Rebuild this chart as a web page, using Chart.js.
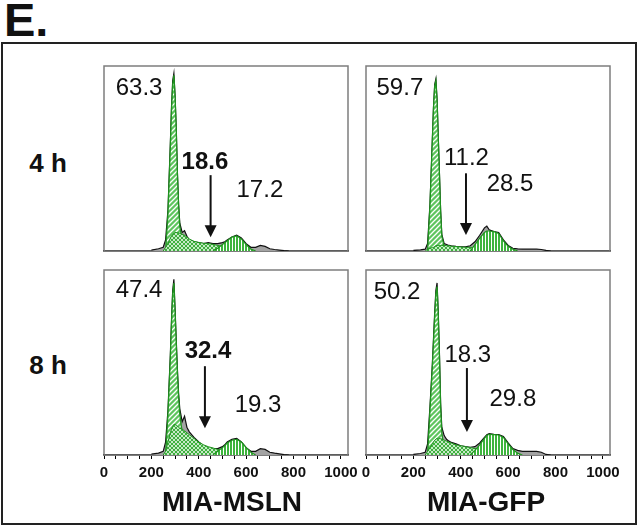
<!DOCTYPE html>
<html>
<head>
<meta charset="utf-8">
<script src="https://cdn.jsdelivr.net/npm/chart.js@4.4.1/dist/chart.umd.min.js"></script>
<style>
  html, body { margin: 0; padding: 0; background: #fff; }
  #page { position: relative; width: 639px; height: 527px; overflow: hidden; font-family: "Liberation Sans", Arial, sans-serif; color: #111; }
  .txt { position: absolute; line-height: 1; white-space: nowrap; }
  .panel { position: absolute; }
  #frame { position: absolute; left: 1px; top: 42px; width: 636px; height: 483px; border: 2px solid #222; box-sizing: border-box; }
</style>
</head>
<body>
<div id="page">
  <div id="frame"></div>
</div>
<script>
/* ── Data: DNA content channel (x) and relative cell count (y, % of panel height) ── */
const _ = null;
const channels = [200, 230, 250, 260, 270, 280, 285, 290, 295, 300,
                  305, 310, 315, 320, 330, 340, 350, 360, 380, 400,
                  420, 440, 460, 480, 500, 510, 520, 540, 560, 580,
                  600, 620, 640, 660, 680, 700, 720, 740, 760, 780];

const axisTicks = [0, 50, 100, 150, 200, 250, 300, 350, 400, 450, 500,
                   550, 600, 650, 700, 750, 800, 850, 900, 950, 1000];
const majorTicks = [0, 200, 400, 600, 800, 1000];
const rowLabels = ['4 h', '8 h'];
const colLabels = ['MIA-MSLN', 'MIA-GFP'];

// 4 h, MIA-MSLN
const totalA = [0.5, 1.2, 2, 6, 22, 58, 78, 92, 96, 84, 66, 42, 25, 15, 10, 11, 8, 6, 5, 4.5,
                4, 4.5, 4, 4, 4.5, 5, 6, 7.5, 8.5, 7, 4, 2, 2, 3, 2.5, 1.2, 0.8, 0.5, 0.2, 0];
const g1A = [_, _, _, 0, 20, 56, 76, 90, 95, 83, 65, 41, 24, 13, 6, 2, 0, _, _, _,
             _, _, _, _, _, _, _, _, _, _, _, _, _, _, _, _, _, _, _, _];
const sA = [_, _, 0, 2, 4, 7, 8, 9, 9.5, 10, 10, 10, 9.8, 9.5, 9, 8.5, 7.5, 6.5, 5.2, 4.6,
            4.2, 4, 3.6, 3, 2.5, 2.2, 2, 1.5, 1, 0.5, 0, _, _, _, _, _, _, _, _, _];
const g2A = [_, _, _, _, _, _, _, _, _, _, _, _, _, _, _, _, _, _, _, _,
             _, _, 0, 1.5, 3.5, 4.5, 5.5, 7.5, 8.2, 6.5, 3.5, 1, 0, _, _, _, _, _, _, _];

// 4 h, MIA-GFP
const totalB = [0.3, 0.6, 1, 4, 25, 60, 78, 90, 93, 82, 62, 42, 22, 9, 4, 3.5, 3, 2.8, 2.5, 2.3,
                2.2, 2.8, 5, 8.5, 12.5, 13.4, 11.5, 10.5, 10, 6, 3, 1.5, 1.2, 1, 1, 1, 1, 0.8, 0.3, 0];
const g1B = [_, _, _, 0, 24, 59, 77, 89, 92, 81, 61, 41, 21, 8, 2.5, 0.5, 0, _, _, _,
             _, _, _, _, _, _, _, _, _, _, _, _, _, _, _, _, _, _, _, _];
const sB = [_, _, 0, 1, 1.5, 1.8, 2, 2.5, 2.8, 3, 3, 3, 3, 3, 3, 2.9, 2.8, 2.6, 2.4, 2.2,
            2, 2, 1.8, 1.6, 1.4, 1.3, 1.2, 1, 0.8, 0.5, 0.2, 0, _, _, _, _, _, _, _, _];
const g2B = [_, _, _, _, _, _, _, _, _, _, _, _, _, _, _, _, _, _, _, _,
             _, 0, 3.5, 7, 10, 10.8, 10.8, 10.5, 9.5, 5.5, 2.5, 1, 0, _, _, _, _, _, _, _];

// 8 h, MIA-MSLN
const totalC = [0.5, 1, 2, 7, 24, 54, 73, 89, 95, 79, 62, 46, 33, 25, 18, 21, 15, 12.5, 9.5, 7,
                5, 4, 3.5, 3.5, 4.5, 5.5, 7, 8.5, 9, 7, 4, 2, 2, 3.4, 3, 1.5, 1, 0.6, 0.2, 0];
const g1C = [_, _, _, 0, 22, 52, 71, 87, 93, 77, 60, 44, 31, 22, 12, 6, 2, 0, _, _,
             _, _, _, _, _, _, _, _, _, _, _, _, _, _, _, _, _, _, _, _];
const sC = [_, _, 0, 2, 7, 12, 14, 15.5, 16.5, 16.5, 16, 15.5, 15, 14.5, 14, 13, 12, 11, 9, 7,
            5.5, 4.5, 3.8, 3, 2.5, 2.2, 2, 1.5, 1, 0.6, 0.3, 0, _, _, _, _, _, _, _, _];
const g2C = [_, _, _, _, _, _, _, _, _, _, _, _, _, _, _, _, _, _, _, _,
             _, _, 0, 2, 4, 5, 6.5, 8, 8.5, 7, 4, 1.5, 0, _, _, _, _, _, _, _];

// 8 h, MIA-GFP
const totalD = [0.3, 0.8, 1.5, 6, 26, 49, 63, 77, 89, 93, 77, 55, 28, 15, 10.5, 8.5, 7.5, 6.8, 6, 5,
                4.5, 4.2, 4.5, 6.5, 9.5, 11, 11.5, 11.2, 11, 10, 6.5, 3.5, 2.5, 2, 2, 2, 2, 1.5, 0.3, 0];
const g1D = [_, _, _, 0, 24, 47, 61, 75, 87, 91, 75, 53, 26, 12, 3, 1, 0, _, _, _,
             _, _, _, _, _, _, _, _, _, _, _, _, _, _, _, _, _, _, _, _];
const sD = [_, _, 0, 2, 4, 6, 7, 8, 8.5, 9, 9, 9, 8.8, 8.5, 8, 7.5, 7, 6.5, 5.5, 5,
            4.5, 4, 3.5, 3, 2.5, 2.2, 2, 1.5, 1, 0.6, 0.3, 0, _, _, _, _, _, _, _, _];
const g2D = [_, _, _, _, _, _, _, _, _, _, _, _, _, _, _, _, _, _, _, _,
             _, 0, 2.5, 5.5, 9, 10.5, 11.2, 11, 10.8, 9.5, 6, 3, 1, 0, _, _, _, _, _, _];

// percentages (G1, S, G2)
const pctA = ['63.3', '18.6', '17.2'];
const pctB = ['59.7', '11.2', '28.5'];
const pctC = ['47.4', '32.4', '19.3'];
const pctD = ['50.2', '18.3', '29.8'];

/* ── Layout ── */
const PANEL_W = 244, PANEL_H = 185;
const COL_X = [104, 366];
const ROW_Y = [66, 270];
const X_MAX = 1030;
const FONT = '"Liberation Sans", Arial, sans-serif';

/* ── Fill patterns ── */
function makePattern(kind) {
  const c = document.createElement('canvas');
  const g = c.getContext('2d');
  if (kind === 'diag') {
    c.width = c.height = 5;
    g.fillStyle = '#5fc55f'; g.fillRect(0, 0, 5, 5);
    g.strokeStyle = '#ffffff'; g.lineWidth = 1.3;
    g.beginPath();
    g.moveTo(-1, 6); g.lineTo(6, -1);
    g.moveTo(-3.5, 3.5); g.lineTo(3.5, -3.5);
    g.moveTo(1.5, 8.5); g.lineTo(8.5, 1.5);
    g.stroke();
  } else if (kind === 'cross') {
    c.width = c.height = 4;
    g.fillStyle = '#3fb03f'; g.fillRect(0, 0, 4, 4);
    g.strokeStyle = '#e8f7e8'; g.lineWidth = 0.8;
    g.beginPath();
    g.moveTo(0, 4); g.lineTo(4, 0);
    g.moveTo(0, 0); g.lineTo(4, 4);
    g.stroke();
  } else {
    c.width = 3; c.height = 3;
    g.fillStyle = '#ffffff'; g.fillRect(0, 0, 3, 3);
    g.fillStyle = '#3db43d'; g.fillRect(0, 0, 2, 3);
  }
  return g.createPattern(c, 'repeat');
}

/* ── Plugins ── */
function boxPlugin() {
  return {
    id: 'box',
    beforeDatasetsDraw(chart) {
      const a = chart.chartArea, ctx = chart.ctx;
      ctx.save();
      ctx.strokeStyle = '#7d7d7d';
      ctx.lineWidth = 1.5;
      ctx.strokeRect(a.left, a.top, a.right - a.left, a.bottom - a.top);
      ctx.restore();
    }
  };
}

function notesPlugin(notes) {
  return {
    id: 'notes',
    afterDatasetsDraw(chart) {
      const ctx = chart.ctx, x = chart.scales.x, y = chart.scales.y;
      ctx.save();
      ctx.fillStyle = '#111';
      ctx.textAlign = 'center';
      ctx.textBaseline = 'middle';
      notes.labels.forEach(n => {
        ctx.font = (n.bold ? 'bold ' : '') + '24px ' + FONT;
        ctx.fillText(n.text, x.getPixelForValue(n.x), y.getPixelForValue(n.y));
      });
      // arrow pointing down into the S-phase region
      const ax = x.getPixelForValue(notes.arrow.x);
      const y0 = y.getPixelForValue(notes.arrow.from);
      const y1 = y.getPixelForValue(notes.arrow.to);
      ctx.strokeStyle = '#111';
      ctx.lineWidth = 2;
      ctx.beginPath();
      ctx.moveTo(ax, y0);
      ctx.lineTo(ax, y1 - 10);
      ctx.stroke();
      ctx.beginPath();
      ctx.moveTo(ax - 6, y1 - 12);
      ctx.lineTo(ax + 6, y1 - 12);
      ctx.lineTo(ax, y1);
      ctx.closePath();
      ctx.fill();
      ctx.restore();
    }
  };
}

/* ── Panel builder ── */
function renderPanel(col, row, series, notes) {
  const showTicks = row === 1;
  const padL = 24, padR = 24, padT = 8, padB = 8, axisH = showTicks ? 26 : 0;

  const wrap = document.createElement('div');
  wrap.className = 'panel';
  wrap.style.left = (COL_X[col] - padL) + 'px';
  wrap.style.top = (ROW_Y[row] - padT) + 'px';
  wrap.style.width = (PANEL_W + padL + padR) + 'px';
  wrap.style.height = (PANEL_H + padT + padB + axisH) + 'px';
  const canvas = document.createElement('canvas');
  wrap.appendChild(canvas);
  document.getElementById('page').appendChild(wrap);

  const pts = arr => channels.map((c, i) => ({ x: c, y: arr[i] }));
  const greenLine = '#1f941f';

  new Chart(canvas, {
    type: 'line',
    data: {
      datasets: [
        { label: 'Data', data: pts(series.total), order: 4, borderColor: '#111', borderWidth: 1.2,
          backgroundColor: '#a3a3a3', fill: 'origin' },
        { label: 'G1', data: pts(series.g1), order: 3, borderColor: greenLine, borderWidth: 1.3,
          backgroundColor: makePattern('diag'), fill: 'origin' },
        { label: 'S', data: pts(series.s), order: 2, borderColor: greenLine, borderWidth: 1,
          backgroundColor: makePattern('cross'), fill: 'origin' },
        { label: 'G2', data: pts(series.g2), order: 1, borderColor: greenLine, borderWidth: 1.2,
          backgroundColor: makePattern('vert'), fill: 'origin' }
      ]
    },
    options: {
      responsive: true,
      maintainAspectRatio: false,
      animation: false,
      devicePixelRatio: 1,
      layout: { padding: { left: padL, right: padR, top: padT, bottom: padB } },
      elements: { point: { radius: 0 }, line: { tension: 0 } },
      spanGaps: false,
      plugins: { legend: { display: false }, tooltip: { enabled: false } },
      scales: {
        x: {
          type: 'linear',
          min: 0,
          max: X_MAX,
          border: { display: true, color: '#000', width: 1.5 },
          grid: { display: true, drawOnChartArea: false, drawTicks: showTicks, tickLength: 4, color: '#000' },
          ticks: {
            display: showTicks,
            autoSkip: false,
            maxRotation: 0,
            padding: 5,
            color: '#111',
            font: { family: FONT, size: 15, weight: 'bold' },
            callback: v => majorTicks.includes(Math.round(v)) ? String(Math.round(v)) : ''
          },
          afterBuildTicks: s => { s.ticks = axisTicks.map(v => ({ value: v })); },
          afterFit: s => { s.height = axisH; }
        },
        y: { display: false, min: 0, max: 100 }
      }
    },
    plugins: [boxPlugin(), notesPlugin(notes)]
  });
}

function notesFor(p, g1Pos, sPos, g2Pos, arrow, boldS) {
  return {
    labels: [
      { text: p[0], x: g1Pos[0], y: g1Pos[1] },
      { text: p[1], x: sPos[0], y: sPos[1], bold: boldS },
      { text: p[2], x: g2Pos[0], y: g2Pos[1] }
    ],
    arrow: { x: arrow[0], from: arrow[1], to: arrow[2] }
  };
}

renderPanel(0, 0, { total: totalA, g1: g1A, s: sA, g2: g2A },
  notesFor(pctA, [148, 88], [426, 48], [658, 33], [450, 41, 7.5], true));
renderPanel(1, 0, { total: totalB, g1: g1B, s: sB, g2: g2B },
  notesFor(pctB, [143, 88], [424, 50], [608, 36], [422, 42, 8.6], false));
renderPanel(0, 1, { total: totalC, g1: g1C, s: sC, g2: g2C },
  notesFor(pctC, [148, 89], [439, 56], [650, 27], [426, 48, 14.5], true));
renderPanel(1, 1, { total: totalD, g1: g1D, s: sD, g2: g2D },
  notesFor(pctD, [131, 88], [430, 54], [620, 30], [426, 47, 12.4], false));

/* ── Static text: panel letter, row and column labels ── */
function addText(text, x, y, css, align) {
  const d = document.createElement('div');
  d.className = 'txt';
  d.textContent = text;
  d.style.cssText += css;
  d.style.left = x + 'px';
  d.style.top = y + 'px';
  d.style.transform = align === 'left' ? 'translateY(-50%)' : 'translate(-50%, -50%)';
  document.getElementById('page').appendChild(d);
}

addText('E.', 4, 19, 'font-weight:bold;font-size:47px;', 'left');
addText(rowLabels[0], 48, 163, 'font-weight:bold;font-size:26px;');
addText(rowLabels[1], 48, 365, 'font-weight:bold;font-size:26px;');
addText(colLabels[0], 232, 502, 'font-weight:bold;font-size:28px;');
addText(colLabels[1], 486, 502, 'font-weight:bold;font-size:28px;');
</script>
</body>
</html>
